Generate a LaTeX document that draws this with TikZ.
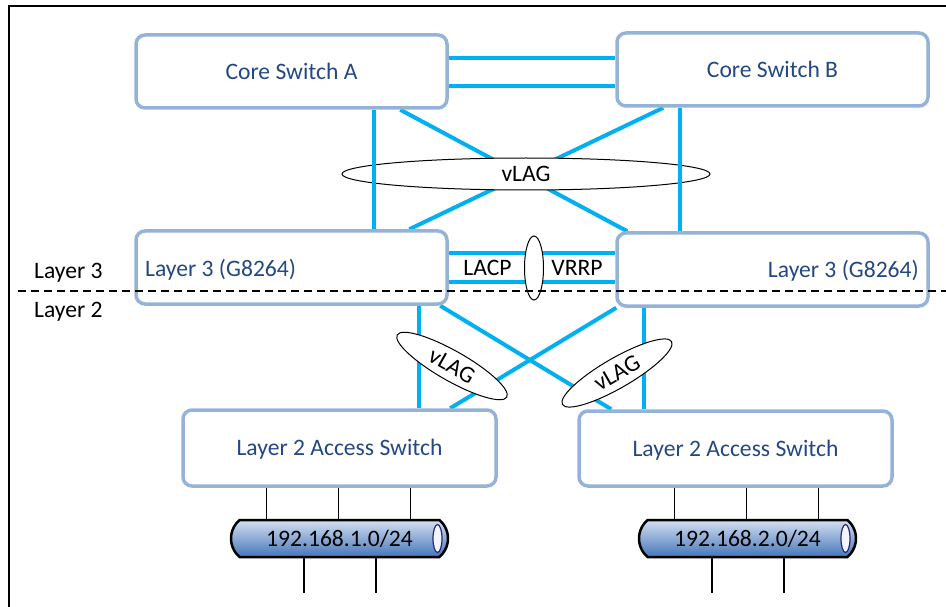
\documentclass[tikz,border=0pt]{standalone}
\usepackage{fontspec}
\setmainfont{Carlito}
\usetikzlibrary{shapes.geometric,shapes.misc}

\definecolor{boxborder}{RGB}{149,179,215}
\definecolor{boxtext}{RGB}{36,72,130}
\definecolor{cyanlink}{RGB}{0,176,240}
\definecolor{pipetop}{RGB}{212,224,242}
\definecolor{pipebot}{RGB}{68,118,184}
\definecolor{pipeedge}{RGB}{40,40,120}
\definecolor{pipeendfill}{RGB}{244,244,255}

\pgfdeclarelayer{links}
\pgfdeclarelayer{bundles}
\pgfdeclarelayer{uplinks}
\pgfsetlayers{links,bundles,uplinks,main}

\newcommand{\diagfont}{\fontsize{23.6}{28}\selectfont}

\begin{document}
\begin{tikzpicture}[x=1pt,y=-1pt,
  swbox/.style={draw=boxborder, line width=3.5pt, rounded corners=9pt, fill=white,
    minimum width=311pt, minimum height=73pt, inner sep=0pt,
    font=\diagfont, text=boxtext, text height=15.1pt, text depth=0pt},
  lbl/.style={font=\diagfont, inner sep=0pt, text height=15.1pt, text depth=0pt},
  link/.style={draw=cyanlink, line width=4pt},
  bundle/.style={ellipse, draw=black, line width=1pt, fill=white, inner sep=0pt,
    font=\diagfont, text height=15.1pt, text depth=0pt},
  tap/.style={draw=black, line width=1.1pt},
  pipe/.style={rounded rectangle, rounded rectangle arc length=100, draw=black,
    line width=2.5pt, top color=pipetop, bottom color=pipebot,
    minimum width=217pt, minimum height=37pt, inner sep=0pt,
    font=\diagfont, text height=15.1pt, text depth=0pt},
  pipeend/.style={ellipse, draw=pipeedge, line width=1.2pt, fill=pipeendfill,
    minimum width=9pt, minimum height=28pt, inner sep=0pt}
]
\useasboundingbox (0,0) rectangle (946,607);

% frame
\coordinate (frBL) at (9,607);
\coordinate (frTL) at (9,6);
\coordinate (frTR) at (946,6);
\draw[line width=1.3pt] (frBL) -- (frTL) -- (frTR);

% switches
\node[swbox] (coreA) at (291.5,71.5) {Core Switch A};
\node[swbox] (coreB) at (772.5,69.5) {Core Switch B};
\node[swbox] (l3A) at (291.5,267.5) {};
\node[swbox] (l3B) at (772.5,269.5) {};
\node[swbox, minimum width=313pt, minimum height=76pt] (l2A) at (339.5,448) {Layer 2 Access Switch};
\node[swbox, minimum width=313pt, minimum height=75pt] (l2B) at (735.5,448.5) {Layer 2 Access Switch};

\node[lbl, text=boxtext, anchor=west] (l3Atxt) at (145,268.5) {Layer 3 (G8264)};
\node[lbl, text=boxtext, anchor=east] (l3Btxt) at (919,269.5) {Layer 3 (G8264)};

% links between the switches
\begin{pgfonlayer}{links}
  \draw[link] ([yshift=13.5pt]coreA.east) -- ([yshift=13.5pt]coreA.east -| coreB.west);
  \draw[link] ([yshift=-14.5pt]coreA.east) -- ([yshift=-14.5pt]coreA.east -| coreB.west);
  \draw[link] ([xshift=266pt]coreA.south west) -- ([xshift=12pt]l3B.north west);
  \draw[link] ([xshift=48pt]coreB.south west) -- ([xshift=275pt]l3A.north west);
  \draw[link] ([yshift=14.5pt]l3A.east) -- ([yshift=14.5pt]l3A.east -| l3B.west);
  \draw[link] ([yshift=-14.5pt]l3A.east) -- ([yshift=-14.5pt]l3A.east -| l3B.west);
  \draw[link] ([xshift=285pt]l3A.south west) -- ([xshift=238pt]l2A.north west);
  \draw[link] ([xshift=306pt]l3A.south west) -- ([xshift=34pt]l2B.north west);
  \draw[link] ([xshift=1pt]l3B.south west) -- ([xshift=269pt]l2A.north west);
  \draw[link] ([xshift=29pt]l3B.south west) -- ([xshift=67pt]l2B.north west);
\end{pgfonlayer}

% link aggregation groups
\begin{pgfonlayer}{bundles}
  \node[bundle, minimum width=368pt, minimum height=32pt] (vlagTop) at (526,174) {vLAG};
  \node[bundle, minimum width=19pt, minimum height=64pt] (lagMid) at (534,268) {};
  \node[bundle, minimum width=126pt, minimum height=30pt, rotate=-29.6] (vlagL) at (452,366) {vLAG};
  \node[bundle, minimum width=126pt, minimum height=30pt, rotate=30] (vlagR) at (617,373) {vLAG};
\end{pgfonlayer}

\begin{pgfonlayer}{uplinks}
  \draw[link] ([xshift=240pt]coreA.south west) -- ([xshift=240pt]l3A.north west);
  \draw[link] ([xshift=65pt]coreB.south west) -- ([xshift=65pt]l3B.north west);
\end{pgfonlayer}

\node[lbl] (lacp) at (487.5,268) {LACP};
\node[lbl] (vrrp) at (577,268) {VRRP};

% network segments
\node[pipe] (net1) at (339.5,538.5) {192.168.1.0/24};
\node[pipe] (net2) at (747.5,538.5) {192.168.2.0/24};
\node[pipeend] (net1end) at (437.5,538.5) {};
\node[pipeend] (net2end) at (845.5,538.5) {};

\foreach \dx in {85,157,229} {
  \draw[tap] ([xshift=\dx pt]l2A.south west) -- ([xshift=\dx pt]l2A.south west |- net1.north);
}
\foreach \dx in {97,169,241} {
  \draw[tap] ([xshift=\dx pt]l2B.south west) -- ([xshift=\dx pt]l2B.south west |- net2.north);
}
\coordinate (h1) at (304,593);
\coordinate (h2) at (376,593);
\coordinate (h3) at (712,593);
\coordinate (h4) at (784,593);
\draw[tap] (h1 |- net1.south) -- (h1);
\draw[tap] (h2 |- net1.south) -- (h2);
\draw[tap] (h3 |- net2.south) -- (h3);
\draw[tap] (h4 |- net2.south) -- (h4);

% layer boundary
\node[lbl, anchor=west] (lay3) at (34,271) {Layer 3};
\node[lbl, anchor=west] (lay2) at (34,310) {Layer 2};
\coordinate (divL) at (18,291);
\coordinate (divR) at (946,291);
\draw[line width=1.1pt, dash pattern=on 8pt off 5pt] (divL) -- (divR);

\end{tikzpicture}
\end{document}
